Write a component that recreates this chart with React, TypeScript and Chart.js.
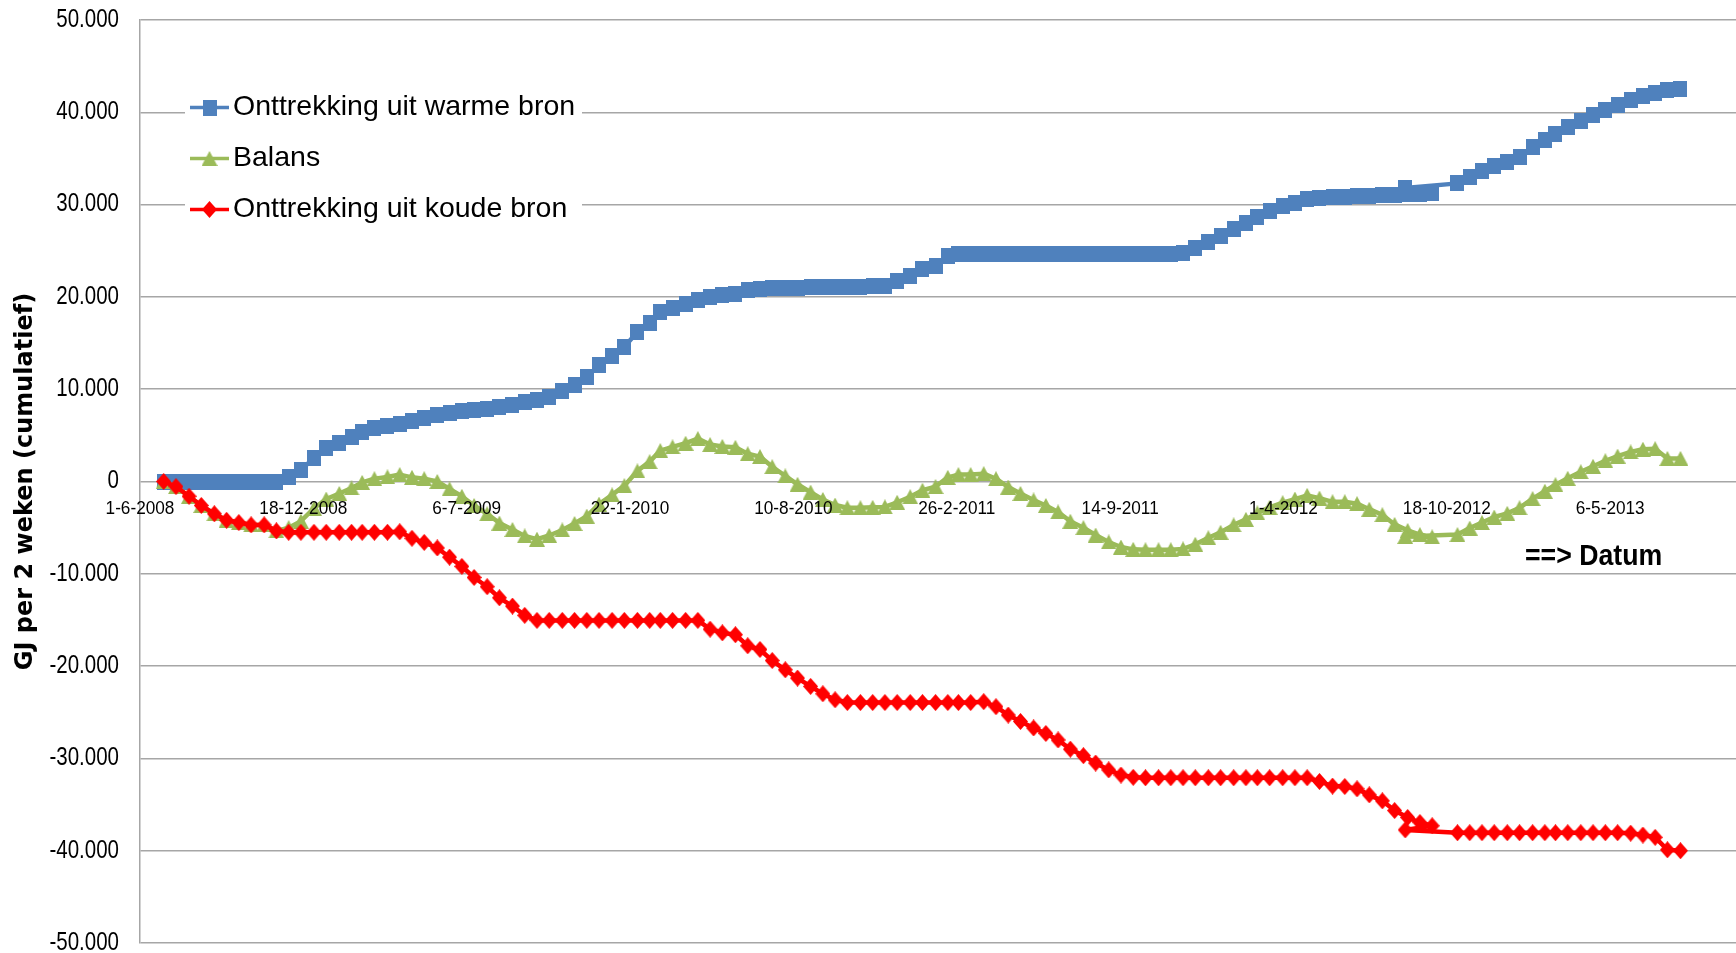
import React, { useEffect, useRef } from "react";
import { Chart, registerables } from "chart.js";

Chart.register(...registerables);

// Axis date labels (every 200 days from the start of the log)
const tickLabels = [
  "1-6-2008", "18-12-2008", "6-7-2009", "22-1-2010", "10-8-2010",
  "26-2-2011", "14-9-2011", "1-4-2012", "18-10-2012", "6-5-2013",
];

const seriesNames = [
  "Onttrekking uit warme bron",
  "Balans",
  "Onttrekking uit koude bron",
];

// Cumulative GJ, one reading per half month
const warm = [
  0, 0, 0, 0, 0, 0, 0, 0, 0, 0,
  500, 1200, 2600, 3600, 4200, 4800, 5400, 5800, 6000, 6200,
  6600, 6900, 7200, 7400, 7600, 7800, 7900, 8100, 8300, 8600,
  8800, 9200, 9800, 10500, 11300, 12600, 13600, 14600, 16200, 17200,
  18400, 18800, 19200, 19700, 20000, 20200, 20300, 20800, 20900, 21000,
  21000, 21000, 21050, 21050, 21100, 21100, 21100, 21150, 21200, 21700,
  22300, 23000, 23400, 24400, 24700, 24700, 24700, 24700, 24700, 24700,
  24700, 24700, 24700, 24700, 24700, 24700, 24700, 24700, 24700, 24700,
  24700, 24700, 24800, 25300, 26000, 26600, 27400, 28000, 28700, 29300,
  29800, 30200, 30600, 30700, 30800, 30850, 30900, 30950, 31000, 31000,
  31100, 31200, 31300, 31800, 32300, 33000, 33600, 34200, 34600, 35200,
  36200, 37000, 37700, 38400, 39100, 39700, 40300, 40800, 41300, 41800,
  42100, 42400, 42500,
];

const balance = [
  0, -550, -1600, -2600, -3500, -4200, -4450, -4700, -4700, -5350,
  -5000, -4300, -2900, -1900, -1300, -700, -100, 300, 500, 750,
  450, 300, 0, -800, -1600, -2600, -3500, -4500, -5200, -5900,
  -6250, -5850, -5250, -4550, -3750, -2450, -1450, -450, 1150, 2150,
  3350, 3750, 4150, 4650, 4000, 3800, 3700, 3000, 2700, 1600,
  600, -300, -1150, -1950, -2550, -2850, -2850, -2800, -2750, -2250,
  -1650, -950, -550, 450, 750, 750, 850, 300, -600, -1300,
  -2000, -2600, -3300, -4300, -5000, -5800, -6550, -7100, -7350, -7400,
  -7400, -7400, -7300, -6800, -6100, -5500, -4700, -4100, -3400, -2800,
  -2300, -1900, -1500, -1800, -2200, -2200, -2400, -3000, -3600, -4650,
  -5300, -5750, -6000, -5950, -5750, -5050, -4450, -3850, -3450, -2850,
  -1850, -1050, -350, 350, 1050, 1650, 2250, 2750, 3200, 3500,
  3550, 2500, 2500,
];

const cold = [
  0, -550, -1600, -2600, -3500, -4200, -4450, -4700, -4700, -5350,
  -5500, -5500, -5500, -5500, -5500, -5500, -5500, -5500, -5500, -5450,
  -6150, -6600, -7200, -8200, -9200, -10400, -11400, -12600, -13500, -14500,
  -15050, -15050, -15050, -15050, -15050, -15050, -15050, -15050, -15050, -15050,
  -15050, -15050, -15050, -15050, -16000, -16400, -16600, -17800, -18200, -19400,
  -20400, -21300, -22200, -23000, -23650, -23950, -23950, -23950, -23950, -23950,
  -23950, -23950, -23950, -23950, -23950, -23950, -23850, -24400, -25300, -26000,
  -26700, -27300, -28000, -29000, -29700, -30500, -31250, -31800, -32050, -32100,
  -32100, -32100, -32100, -32100, -32100, -32100, -32100, -32100, -32100, -32100,
  -32100, -32100, -32100, -32500, -33000, -33050, -33300, -33950, -34600, -35650,
  -36400, -36950, -37300, -37750, -38050, -38050, -38050, -38050, -38050, -38050,
  -38050, -38050, -38050, -38050, -38050, -38050, -38050, -38050, -38100, -38300,
  -38550, -39900, -40000,
];

// Readings fall on the 15th and the last day of each month; the reading
// for 15-10-2012 was logged under 28-8-2012.
const firstSample = "30-6-2008";
const misdated = { index: 103, date: "28-8-2012" };

const BLUE = "#4F81BD";
const GREEN = "#9BBB59";
const RED = "#FF0000";
const GRID = "#A6A6A6";
const SANS = "'Liberation Sans', Arial, sans-serif";

function parseDate(s: string): number {
  const [d, m, y] = s.split("-").map(Number);
  return Date.UTC(y, m - 1, d);
}

const ORIGIN = parseDate(tickLabels[0]);
const dayOf = (s: string) => Math.round((parseDate(s) - ORIGIN) / 86400000);

function buildSampleDates(count: number): string[] {
  const out: string[] = [firstSample];
  let [, m, y] = firstSample.split("-").map(Number);
  while (out.length < count) {
    m += 1;
    if (m > 12) { m = 1; y += 1; }
    const last = new Date(Date.UTC(y, m, 0)).getUTCDate();
    out.push(`15-${m}-${y}`);
    if (out.length < count) out.push(`${last}-${m}-${y}`);
  }
  out[misdated.index] = misdated.date;
  return out;
}

const sampleDates = buildSampleDates(warm.length);

function formatThousands(v: number): string {
  const s = Math.abs(v).toString().replace(/\B(?=(\d{3})+(?!\d))/g, ".");
  return (v < 0 ? "-" : "") + s;
}

// Text drawn with an optional horizontal squeeze
function drawText(
  ctx: CanvasRenderingContext2D,
  text: string,
  x: number,
  y: number,
  font: string,
  align: CanvasTextAlign,
  sx = 1
) {
  ctx.save();
  ctx.translate(x, y);
  ctx.scale(sx, 1);
  ctx.font = font;
  ctx.fillStyle = "#000";
  ctx.textAlign = align;
  ctx.textBaseline = "middle";
  ctx.fillText(text, 0, 0);
  ctx.restore();
}

function marker(w: number, h: number, paint: (c: CanvasRenderingContext2D) => void) {
  const cv = document.createElement("canvas");
  cv.width = w;
  cv.height = h;
  paint(cv.getContext("2d")!);
  return cv;
}

export default function App() {
  const ref = useRef<HTMLCanvasElement | null>(null);

  useEffect(() => {
    if (!ref.current) return;

    const square = marker(14, 16, (c) => {
      c.fillStyle = BLUE;
      c.fillRect(0, 0, 14, 16);
    });
    const triangle = marker(16, 15, (c) => {
      c.fillStyle = GREEN;
      c.beginPath();
      c.moveTo(8, 0);
      c.lineTo(16, 15);
      c.lineTo(0, 15);
      c.closePath();
      c.fill();
    });
    const diamond = marker(15, 17, (c) => {
      c.fillStyle = RED;
      c.beginPath();
      c.moveTo(7.5, 0);
      c.lineTo(15, 8.5);
      c.lineTo(7.5, 17);
      c.lineTo(0, 8.5);
      c.closePath();
      c.fill();
    });

    const toPoints = (vals: number[]) =>
      vals.map((v, i) => ({ x: dayOf(sampleDates[i]), y: v }));

    const series = [
      { name: seriesNames[0], values: warm, color: BLUE, icon: square, order: 3 },
      { name: seriesNames[1], values: balance, color: GREEN, icon: triangle, order: 2 },
      { name: seriesNames[2], values: cold, color: RED, icon: diamond, order: 1 },
    ];

    const axisText = {
      id: "axisText",
      beforeDatasetsDraw(chart: any) {
        const { ctx, scales } = chart;
        scales.y.ticks.forEach((tk: any) => {
          drawText(
            ctx,
            formatThousands(tk.value),
            119,
            scales.y.getPixelForValue(tk.value),
            `25px ${SANS}`,
            "right",
            0.82
          );
        });
      },
      afterDatasetsDraw(chart: any) {
        const { ctx, scales } = chart;
        const y0 = scales.y.getPixelForValue(0);
        tickLabels.forEach((t) => {
          drawText(ctx, t, scales.x.getPixelForValue(dayOf(t)), y0 + 27, `18.5px ${SANS}`, "center", 0.93);
        });
      },
    };

    const legendBox = {
      id: "legendBox",
      afterDraw(chart: any) {
        const { ctx } = chart;
        ctx.save();
        ctx.fillStyle = "#FFFFFF";
        ctx.fillRect(185, 84, 397, 150);
        series.forEach((s, i) => {
          const cy = 107.5 + i * 51;
          ctx.strokeStyle = s.color;
          ctx.lineWidth = 3.5;
          ctx.beginPath();
          ctx.moveTo(190, cy);
          ctx.lineTo(229, cy);
          ctx.stroke();
          ctx.drawImage(s.icon, 209.5 - s.icon.width / 2, cy - s.icon.height / 2);
          drawText(ctx, s.name, 233, cy, `28.5px ${SANS}`, "left");
        });
        ctx.restore();
        drawText(ctx, "==> Datum", 1525, 557, `bold 29px ${SANS}`, "left", 0.92);
      },
    };

    const chart = new Chart(ref.current, {
      type: "line",
      data: {
        datasets: series.map((s) => ({
          label: s.name,
          data: toPoints(s.values),
          borderColor: s.color,
          backgroundColor: s.color,
          borderWidth: 4.5,
          borderJoinStyle: "round",
          borderCapStyle: "round",
          pointStyle: s.icon,
          pointRadius: 7,
          pointHoverRadius: 7,
          order: s.order,
          fill: false,
          tension: 0,
        })),
      },
      options: {
        animation: false,
        responsive: false,
        devicePixelRatio: 1,
        events: [],
        layout: { autoPadding: false, padding: { top: 20, bottom: 10, left: 0, right: 0 } },
        plugins: {
          legend: { display: false },
          tooltip: { enabled: false },
        },
        scales: {
          x: {
            type: "linear",
            min: 0,
            max: 1954,
            display: false,
          },
          y: {
            type: "linear",
            min: -50000,
            max: 50000,
            afterFit: (scale: any) => {
              scale.width = 140;
              scale.paddingTop = 0;
              scale.paddingBottom = 0;
            },
            ticks: {
              stepSize: 10000,
              display: false,
            },
            grid: { color: GRID, lineWidth: 1.5, drawTicks: false },
            border: { display: true, color: GRID, width: 1.5 },
            title: {
              display: true,
              text: "GJ per 2 weken (cumulatief)",
              color: "#000",
              font: { family: "'DejaVu Sans', sans-serif", size: 24, weight: "bold" },
              padding: { top: 11, bottom: 0 },
            },
          },
        },
      },
      plugins: [axisText, legendBox],
    } as any);

    return () => chart.destroy();
  }, []);

  return (
    <div style={{ position: "fixed", left: 0, top: 0, width: 1736, height: 953, background: "#fff" }}>
      <canvas ref={ref} width={1736} height={953} style={{ display: "block" }} />
    </div>
  );
}
